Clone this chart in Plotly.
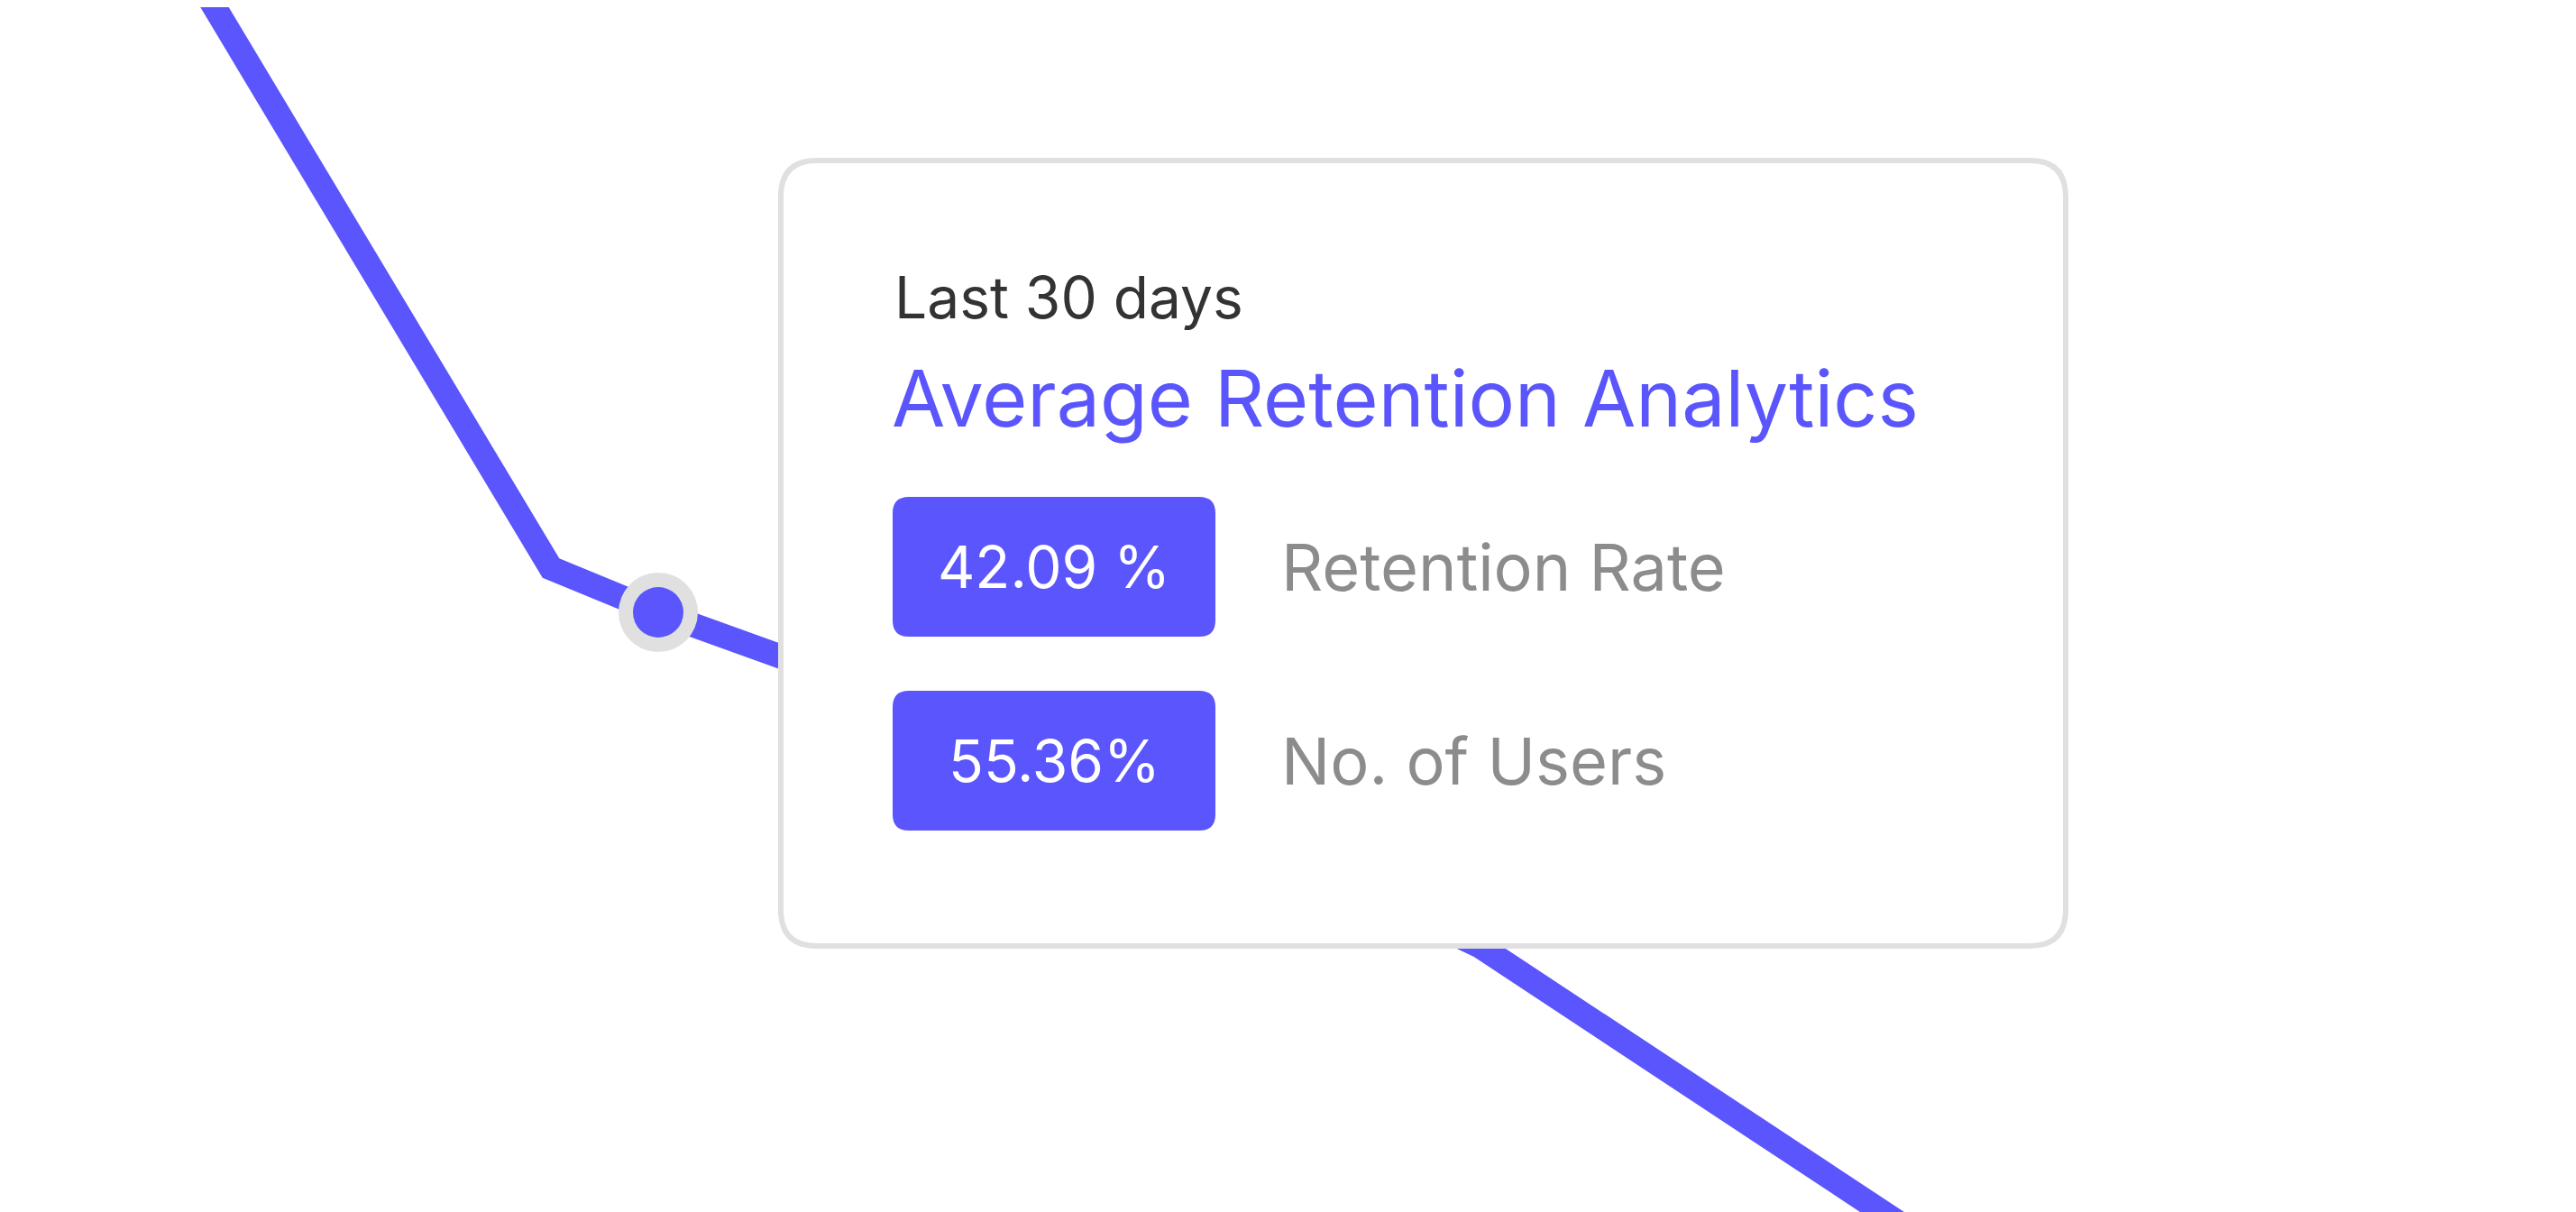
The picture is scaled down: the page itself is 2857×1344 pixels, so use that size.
import plotly.graph_objects as go

W, H = 2857, 1344
line_x = [182, 603, 722, 1268, 1633, 2143]
line_y = [-80, 622, 671, 868, 1041, 1378]
marker_x = [722]
marker_y = [671]
header = "Last 30 days"
title = "Average Retention Analytics"
badge_values = ["42.09 %", "55.36%"]
badge_labels = ["Retention Rate", "No. of Users"]

BLUE = "#5a55fc"
FONT = "Inter, Lato, sans-serif"
DX, DY = -7, -7

def rrect(x0, y0, x1, y1, r):
    x0 += DX; x1 += DX; y0 += DY; y1 += DY
    return (f"M{x0+r},{y0} L{x1-r},{y0} Q{x1},{y0} {x1},{y0+r} L{x1},{y1-r} "
            f"Q{x1},{y1} {x1-r},{y1} L{x0+r},{y1} Q{x0},{y1} {x0},{y1-r} "
            f"L{x0},{y0+r} Q{x0},{y0} {x0+r},{y0} Z")

fig = go.Figure()
fig.add_trace(go.Scatter(x=line_x, y=line_y, mode="lines",
                         line=dict(color=BLUE, width=27), hoverinfo="skip"))
fig.add_trace(go.Scatter(x=marker_x, y=marker_y, mode="markers",
                         marker=dict(size=88, color="#e0e0e0"), hoverinfo="skip"))
fig.add_trace(go.Scatter(x=marker_x, y=marker_y, mode="markers",
                         marker=dict(size=56, color=BLUE), hoverinfo="skip"))

shapes = [dict(type="path", path=rrect(865, 177, 2290, 1048, 40), fillcolor="white",
               line=dict(color="#e0e0e0", width=6), layer="above")]
annotations = [
    dict(x=989 + DX, y=328 + DY, text=header, xanchor="left", yanchor="middle", showarrow=False,
         font=dict(family=FONT, size=64, color="#333333")),
    dict(x=986 + DX, y=441 + DY, text=title, xanchor="left", yanchor="middle", showarrow=False,
         font=dict(family=FONT, size=86, color=BLUE)),
]
for i, (v, lab) in enumerate(zip(badge_values, badge_labels)):
    y0 = 550 + i * 215
    y1 = y0 + 155
    shapes.append(dict(type="path", path=rrect(989, y0, 1347, y1, 18), fillcolor=BLUE,
                       line=dict(width=0), layer="above"))
    annotations.append(dict(x=1168 + DX, y=(y0 + y1) / 2 + DY, text=v, showarrow=False,
                            xanchor="center", yanchor="middle",
                            font=dict(family=FONT, size=64, color="white")))
    annotations.append(dict(x=1418 + DX, y=(y0 + y1) / 2 + DY, text=lab, showarrow=False,
                            xanchor="left", yanchor="middle",
                            font=dict(family=FONT, size=72, color="#8c8c8c")))

fig.update_layout(
    width=W, height=H, margin=dict(l=0, r=0, t=0, b=0),
    paper_bgcolor="white", plot_bgcolor="white", showlegend=False,
    xaxis=dict(range=[0, W], visible=False, fixedrange=True),
    yaxis=dict(range=[H, 0], visible=False, fixedrange=True),
    shapes=shapes, annotations=annotations,
)
fig.write_html("out.html", config={"displayModeBar": False})
